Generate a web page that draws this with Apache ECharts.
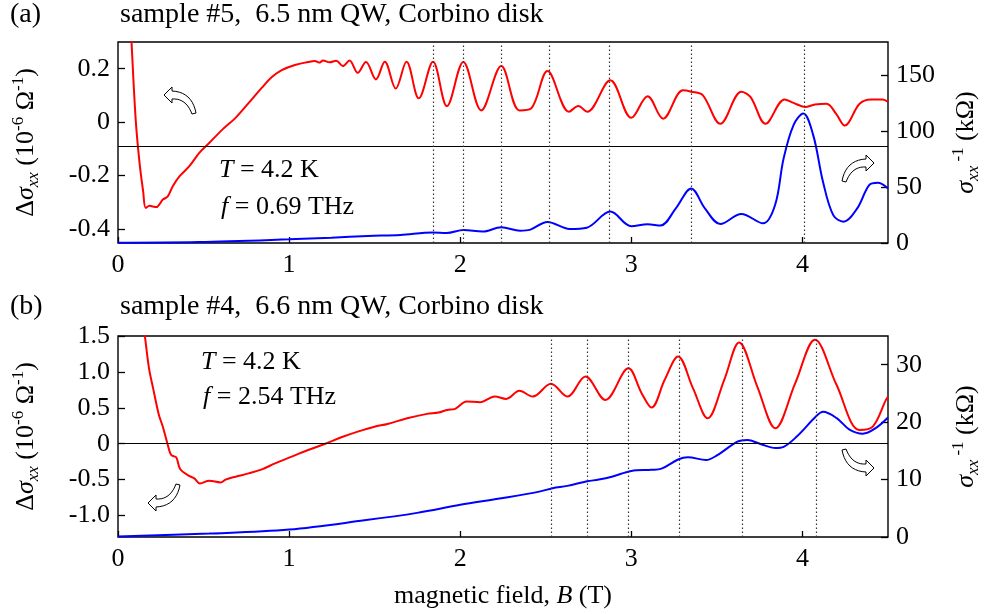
<!DOCTYPE html>
<html>
<head>
<meta charset="utf-8">
<script src="https://cdn.jsdelivr.net/npm/echarts@6/dist/echarts.min.js"></script>
<style>
html,body{margin:0;padding:0;background:#fff}
#chart{width:990px;height:614px}
</style>
</head>
<body>
<div id="chart"></div>
<script>
// ---- panel (a): sample #5, f = 0.69 THz ----
const aRedB = [0.07,0.079,0.104,0.127,0.147,0.162,0.185,0.205,0.224,0.245,0.262,0.291,0.32,0.359,0.417,0.475,0.533,0.61,0.687,0.764,0.841,0.899,0.957,1.034,1.111,1.15,1.179,1.198,1.237,1.275,1.314,1.353,1.401,1.449,1.507,1.559,1.623,1.686,1.758,1.841,1.922,2.018,2.123,2.24,2.346,2.414,2.51,2.636,2.69,2.742,2.877,3.0,3.095,3.186,3.301,3.35,3.417,3.52,3.643,3.697,3.784,3.896,3.948,4.015,4.073,4.141,4.199,4.247,4.334,4.401,4.469,4.5];
const aRedV = [0.42,0.30,0.004,-0.159,-0.259,-0.321,-0.313,-0.316,-0.318,-0.305,-0.29,-0.278,-0.24,-0.203,-0.165,-0.115,-0.078,-0.028,0.016,0.072,0.129,0.169,0.195,0.214,0.225,0.229,0.223,0.231,0.224,0.230,0.21,0.231,0.185,0.225,0.16,0.226,0.126,0.226,0.089,0.226,0.06,0.225,0.044,0.21,0.044,0.051,0.191,0.039,0.06,0.039,0.157,0.016,0.097,0.013,0.119,0.114,0.101,-0.006,0.114,0.094,-0.006,0.085,0.072,0.057,0.066,0.069,0.029,-0.013,0.069,0.085,0.085,0.076];
const aBlueB = [0,0.47,1.0,1.247,1.46,1.65,1.84,1.92,2.02,2.13,2.24,2.35,2.41,2.51,2.64,2.74,2.877,3.0,3.095,3.17,3.26,3.35,3.43,3.52,3.643,3.77,3.84,3.89,3.948,4.005,4.063,4.12,4.18,4.24,4.32,4.39,4.44,4.5];
const aBlueV = [0.3,0.9,3.3,4.8,6.3,7.2,9.3,8.9,11.6,10.2,14.0,11.0,12.0,18.8,12.5,13.7,28.1,15.0,16.7,15.6,31,48.9,31,17,26,17.6,34,75.8,105.6,116,96.6,54.9,25,19.1,31,51.9,54,48.9];
const aDots = [1.84,2.02,2.244,2.52,2.873,3.348,4.006];
const aBaseLine = -0.086;

// ---- panel (b): sample #4, f = 2.54 THz ----
const bRedB = [0.15,0.156,0.181,0.205,0.239,0.262,0.291,0.311,0.34,0.363,0.407,0.446,0.479,0.533,0.6,0.629,0.687,0.764,0.841,0.918,1.015,1.111,1.208,1.305,1.401,1.498,1.575,1.69,1.806,1.873,1.922,1.97,2.038,2.115,2.202,2.269,2.346,2.424,2.53,2.626,2.732,2.848,2.983,3.06,3.118,3.195,3.273,3.36,3.446,3.543,3.63,3.736,3.842,3.958,4.073,4.199,4.334,4.411,4.488,4.5];
const bRedV = [1.6,1.518,1.053,0.774,0.40,0.237,-0.018,-0.158,-0.19,-0.353,-0.437,-0.484,-0.553,-0.516,-0.54,-0.50,-0.46,-0.414,-0.358,-0.274,-0.181,-0.088,-0.004,0.089,0.168,0.237,0.275,0.354,0.415,0.433,0.47,0.485,0.587,0.578,0.656,0.624,0.736,0.656,0.834,0.656,0.936,0.61,1.05,0.704,0.503,0.89,1.215,0.774,0.354,0.89,1.41,0.796,0.215,0.843,1.448,0.82,0.191,0.237,0.61,0.65];
const bBlueB = [0,0.533,1.0,1.44,1.748,2.0,2.23,2.462,2.54,2.626,2.742,2.81,2.886,3.0,3.118,3.176,3.273,3.33,3.437,3.5,3.62,3.678,3.755,3.842,3.89,3.967,4.083,4.12,4.2,4.275,4.353,4.43,4.5];
const bBlueV = [0.1,0.6,1.3,2.9,4.2,5.6,6.7,7.9,8.5,8.9,9.7,10.0,10.5,11.5,11.7,11.9,13.5,13.9,13.4,14.2,16.6,16.9,16.2,15.5,15.7,17.5,21.1,21.8,20.7,18.7,18.0,19.0,20.8];
const bDots = [2.533,2.736,2.979,3.28,3.645,4.085];
const bBaseLine = 0;

// ---- tick values ----
const ticksX = [0,1,2,3,4];
const ticksAL = [-0.4,-0.2,0,0.2];
const ticksAR = [0,50,100,150];
const ticksBL = [-1.0,-0.5,0,0.5,1.0,1.5];
const ticksBR = [0,10,20,30];

const FONT = 'Liberation Serif';
const FS = 26;   // tick labels, axis names, annotations
const FT = 28;   // panel titles

const zip = (xs, ys) => xs.map((x, i) => [x, ys[i]]);
const fmt1 = v => '{v|' + (Math.abs(v) < 1e-9 ? '0' : v.toFixed(1)) + '}';
const fmt0 = v => '{v|' + String(Math.round(v)) + '}';
const richTick = {v: {fontSize: FS, fontFamily: FONT, color: '#000'}};

const richName = {
  n:  {fontSize: FS, lineHeight: 32, fontFamily: FONT, color: '#000', verticalAlign: 'middle'},
  s:  {fontSize: FS, lineHeight: 32, fontFamily: FONT, color: '#000', fontStyle: 'italic', verticalAlign: 'middle'},
  sb: {fontSize: 17, lineHeight: 16, fontFamily: FONT, color: '#000', fontStyle: 'italic', verticalAlign: 'bottom'},
  sp: {fontSize: 17, lineHeight: 16, fontFamily: FONT, color: '#000', verticalAlign: 'top'}
};
const nameL = '{n|Δ}{s|σ}{sb|xx}{n| (10}{sp|-6}{n| Ω}{sp|-1}{n|)}';
const nameR = '{s|σ}{sb|xx}{sp| -1}{n| (kΩ)}';

function xAx(grid, withName) {
  const ax = {
    type: 'value', gridIndex: grid, min: 0, max: 4.5,
    axisLine: {show: false, onZero: false}, splitLine: {show: false},
    axisTick: {show: true, inside: true, length: 6, customValues: ticksX, lineStyle: {color: '#000', width: 1.3}},
    axisLabel: {customValues: ticksX, formatter: fmt0, rich: richTick, fontSize: FS, fontFamily: FONT, margin: 9}
  };
  if (withName) {
    ax.name = '{n|magnetic field, }{i|B}{n| (T)}';
    ax.nameLocation = 'middle';
    ax.nameGap = 46;
    ax.nameTextStyle = {rich: {
      n: {fontSize: FS, fontFamily: FONT, color: '#000'},
      i: {fontSize: FS, fontFamily: FONT, color: '#000', fontStyle: 'italic'}
    }};
  }
  return ax;
}

function yAx(grid, min, max, ticks, pos, name, fmt, gap) {
  return {
    type: 'value', gridIndex: grid, min: min, max: max, position: pos,
    axisLine: {show: false, onZero: false}, splitLine: {show: false},
    axisTick: {show: true, inside: true, length: 7, customValues: ticks, lineStyle: {color: '#000', width: 1.3}},
    axisLabel: {customValues: ticks, formatter: fmt, rich: richTick, fontSize: FS, fontFamily: FONT, margin: 8},
    name: name, nameLocation: 'middle', nameRotate: 90, nameGap: gap,
    nameTextStyle: {rich: richName}
  };
}

function guides(base, dots) {
  const data = [{yAxis: base, lineStyle: {type: 'solid', color: '#000', width: 1.2}}];
  dots.forEach(d => data.push({xAxis: d, lineStyle: {type: [1.5, 2.5], color: '#333', width: 1.2}}));
  return {silent: true, symbol: 'none', animation: false, label: {show: false}, emphasis: {disabled: true}, data: data};
}

function lineSeries(xi, yi, data, color, extra) {
  return Object.assign({
    type: 'line', xAxisIndex: xi, yAxisIndex: yi, data: data,
    showSymbol: false, symbol: 'none', smooth: 0.35, clip: true,
    lineStyle: {color: color, width: 2}, z: 3
  }, extra || {});
}

// hollow curved arrow outline (pointing right), sampled from two quadratic curves
function arrowPoints(cx, cy, sx, sy) {
  const q = (p0, p1, p2, n) => {
    const out = [];
    for (let i = 0; i <= n; i++) {
      const t = i / n, u = 1 - t;
      out.push([u*u*p0[0] + 2*u*t*p1[0] + t*t*p2[0], u*u*p0[1] + 2*u*t*p1[1] + t*t*p2[1]]);
    }
    return out;
  };
  let pts = q([-16, 13], [-12, -8], [8, -9], 10);
  pts = pts.concat([[8, -13], [16, -5], [8, 3]]);
  pts = pts.concat(q([8, -1], [-6, -2], [-12, 14], 10));
  return pts.map(p => [cx + p[0] * sx, cy + p[1] * sy]);
}
const arrow = (cx, cy, sx, sy) => ({
  type: 'polygon', z: 10, silent: true,
  shape: {points: arrowPoints(cx, cy, sx, sy)},
  style: {fill: '#fff', stroke: '#000', lineWidth: 1}
});

const richTF = {
  n: {fontSize: FS, fontFamily: FONT, color: '#000'},
  i: {fontSize: FS, fontFamily: FONT, color: '#000', fontStyle: 'italic'},
  t: {fontSize: FT, fontFamily: FONT, color: '#000'}
};
const txt = (left, top, text) => ({
  type: 'text', left: left, top: top, z: 10, silent: true,
  style: {text: text, rich: richTF, font: FS + 'px ' + FONT, fill: '#000'}
});

const chart = echarts.init(document.getElementById('chart'), null, {renderer: 'canvas'});
chart.setOption({
  animation: false,
  backgroundColor: '#fff',
  textStyle: {fontFamily: FONT},
  grid: [
    {left: 118, right: 96, top: 42, height: 201, show: true, borderColor: '#000', borderWidth: 1.4, backgroundColor: 'transparent'},
    {left: 118, right: 96, top: 336, height: 201, show: true, borderColor: '#000', borderWidth: 1.4, backgroundColor: 'transparent'}
  ],
  xAxis: [xAx(0, false), xAx(1, true)],
  yAxis: [
    yAx(0, -0.4525, 0.3, ticksAL, 'left', nameL, fmt1, 76),
    yAx(0, 0, 180, ticksAR, 'right', nameR, fmt0, 62),
    yAx(1, -1.3, 1.5, ticksBL, 'left', nameL, fmt1, 76),
    yAx(1, 0, 35, ticksBR, 'right', nameR, fmt0, 62)
  ],
  series: [
    lineSeries(0, 0, zip(aRedB, aRedV), '#ff0000', {markLine: guides(aBaseLine, aDots)}),
    lineSeries(0, 1, zip(aBlueB, aBlueV), '#0000ff'),
    lineSeries(1, 2, zip(bRedB, bRedV), '#ff0000', {markLine: guides(bBaseLine, bDots)}),
    lineSeries(1, 3, zip(bBlueB, bBlueV), '#0000ff')
  ],
  graphic: [
    txt(10, 1, '{t|(a)}'),
    txt(120, 1, '{t|sample #5,  6.5 nm QW, Corbino disk}'),
    txt(10, 293, '{t|(b)}'),
    txt(120, 293, '{t|sample #4,  6.6 nm QW, Corbino disk}'),
    txt(219, 157, '{i|T}{n| = 4.2 K}'),
    txt(221, 194, '{i|f}{n| = 0.69 THz}'),
    txt(201, 349, '{i|T}{n| = 4.2 K}'),
    txt(203, 384, '{i|f}{n| = 2.54 THz}'),
    arrow(180, 100, -1, 1),
    arrow(858, 168, 1, 1),
    arrow(164, 498, -1, -1),
    arrow(858, 463, 1, -1)
  ]
});
</script>
</body>
</html>
